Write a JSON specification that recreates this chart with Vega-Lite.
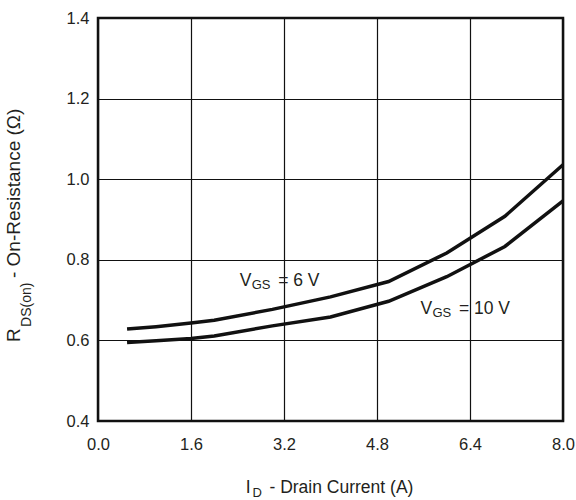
{
  "$schema": "https://vega.github.io/schema/vega-lite/v6.json",
  "width": 465,
  "height": 403,
  "autosize": {"type": "none"},
  "padding": {"left": 98, "top": 18, "right": 13, "bottom": 79},
  "background": "white",
  "config": {
    "font": "Liberation Sans",
    "view": {"stroke": "#111111", "strokeWidth": 2.5},
    "axis": {
      "grid": true,
      "gridColor": "#111111",
      "gridWidth": 1.2,
      "gridOpacity": 1,
      "ticks": false,
      "domain": false,
      "labelFont": "Liberation Sans",
      "labelFontSize": 16.5,
      "labelColor": "#231f20",
      "labelOverlap": false,
      "labelBound": false,
      "labelFlush": false
    }
  },
  "datasets": {
    "curves": [
      {"vgs": "6 V", "x": 0.5, "y": 0.628},
      {"vgs": "6 V", "x": 1.0, "y": 0.634},
      {"vgs": "6 V", "x": 1.6, "y": 0.643},
      {"vgs": "6 V", "x": 2.0, "y": 0.650},
      {"vgs": "6 V", "x": 3.0, "y": 0.677},
      {"vgs": "6 V", "x": 4.0, "y": 0.708},
      {"vgs": "6 V", "x": 5.0, "y": 0.746},
      {"vgs": "6 V", "x": 6.0, "y": 0.817},
      {"vgs": "6 V", "x": 7.0, "y": 0.908},
      {"vgs": "6 V", "x": 8.0, "y": 1.036},
      {"vgs": "10 V", "x": 0.5, "y": 0.595},
      {"vgs": "10 V", "x": 1.0, "y": 0.599},
      {"vgs": "10 V", "x": 1.6, "y": 0.605},
      {"vgs": "10 V", "x": 2.0, "y": 0.611},
      {"vgs": "10 V", "x": 3.0, "y": 0.636},
      {"vgs": "10 V", "x": 4.0, "y": 0.658},
      {"vgs": "10 V", "x": 5.0, "y": 0.697},
      {"vgs": "10 V", "x": 6.0, "y": 0.758},
      {"vgs": "10 V", "x": 7.0, "y": 0.833},
      {"vgs": "10 V", "x": 8.0, "y": 0.946}
    ],
    "notes": [
      {"role": "main", "txt": "V", "x": 2.44, "y": 0.735},
      {"role": "main", "txt": "= 6 V", "x": 3.1, "y": 0.735},
      {"role": "main", "txt": "V", "x": 5.55, "y": 0.6655},
      {"role": "main", "txt": "= 10 V", "x": 6.21, "y": 0.6655},
      {"role": "main", "txt": "I", "x": 2.54, "y": 0.221},
      {"role": "main", "txt": "- Drain Current (A)", "x": 2.95, "y": 0.221},
      {"role": "sub", "txt": "GS", "x": 2.645, "y": 0.7275},
      {"role": "sub", "txt": "GS", "x": 5.755, "y": 0.6575},
      {"role": "sub", "txt": "D", "x": 2.66, "y": 0.211},
      {"role": "ymain", "txt": "R", "x": -1.339, "y": 0.596},
      {"role": "ymain", "txt": "- On-Resistance (Ω)", "x": -1.339, "y": 0.7548},
      {"role": "ysub", "txt": "DS(on)", "x": -1.16, "y": 0.6335}
    ]
  },
  "encoding": {
    "x": {
      "field": "x",
      "type": "quantitative",
      "scale": {"domain": [0, 8], "nice": false, "zero": false},
      "axis": {"values": [0, 1.6, 3.2, 4.8, 6.4, 8.0], "format": ".1f", "labelPadding": 15, "title": null},
      "title": null
    },
    "y": {
      "field": "y",
      "type": "quantitative",
      "scale": {"domain": [0.4, 1.4], "nice": false, "zero": false},
      "axis": {"values": [0.4, 0.6, 0.8, 1.0, 1.2, 1.4], "format": ".1f", "labelPadding": 9, "title": null},
      "title": null
    }
  },
  "layer": [
    {
      "data": {"name": "curves"},
      "mark": {"type": "line", "color": "#111111", "strokeWidth": 3.5, "strokeCap": "butt"},
      "encoding": {"detail": {"field": "vgs"}}
    },
    {
      "data": {"name": "notes"},
      "transform": [{"filter": "datum.role === 'main'"}],
      "mark": {"type": "text", "align": "left", "baseline": "alphabetic", "fontSize": 17.5, "color": "#231f20"},
      "encoding": {"text": {"field": "txt"}}
    },
    {
      "data": {"name": "notes"},
      "transform": [{"filter": "datum.role === 'sub'"}],
      "mark": {"type": "text", "align": "left", "baseline": "alphabetic", "fontSize": 13, "color": "#231f20"},
      "encoding": {"text": {"field": "txt"}}
    },
    {
      "data": {"name": "notes"},
      "transform": [{"filter": "datum.role === 'ymain'"}],
      "mark": {"type": "text", "align": "left", "baseline": "alphabetic", "angle": 270, "fontSize": 19, "color": "#231f20"},
      "encoding": {"text": {"field": "txt"}}
    },
    {
      "data": {"name": "notes"},
      "transform": [{"filter": "datum.role === 'ysub'"}],
      "mark": {"type": "text", "align": "left", "baseline": "alphabetic", "angle": 270, "fontSize": 14, "color": "#231f20"},
      "encoding": {"text": {"field": "txt"}}
    }
  ]
}
